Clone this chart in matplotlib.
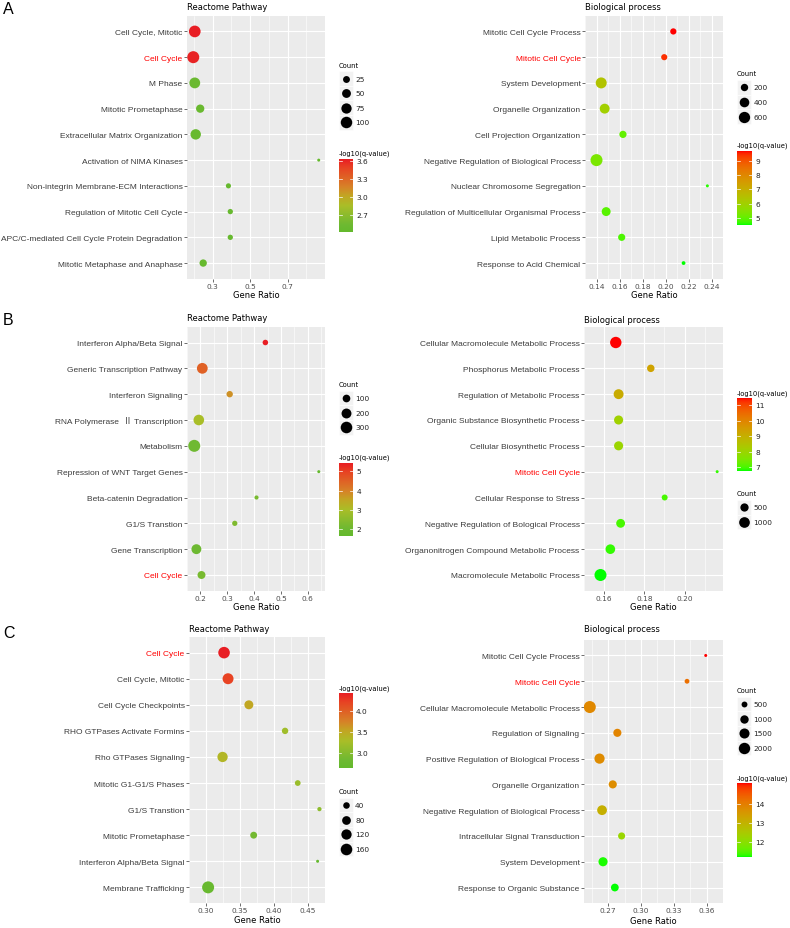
import numpy as np
import matplotlib
matplotlib.use("Agg")
import matplotlib.pyplot as plt
from matplotlib.colors import ListedColormap, LinearSegmentedColormap
from matplotlib.patches import Rectangle

W, H, DPI = 790, 929, 100

# ---------------- data ----------------
# A - Reactome Pathway
a_left_terms = ["Cell Cycle, Mitotic", "Cell Cycle", "M Phase", "Mitotic Prometaphase",
                "Extracellular Matrix Organization", "Activation of NIMA Kinases",
                "Non-integrin Membrane-ECM Interactions", "Regulation of Mitotic Cell Cycle",
                "APC/C-mediated Cell Cycle Protein Degradation", "Mitotic Metaphase and Anaphase"]
a_left_ratio = [0.204, 0.196, 0.204, 0.233, 0.209, 0.867, 0.384, 0.394, 0.394, 0.249]
a_left_count = [105, 112, 86, 42, 78, 5, 11, 12, 12, 30]
a_left_q = [3.64, 3.62, 2.50, 2.47, 2.46, 2.41, 2.44, 2.45, 2.45, 2.44]
a_left_xbreaks = [0.3, 0.5, 0.7]
a_left_xlabels = ["0.3", "0.5", "0.7"]
a_left_size_breaks = [25, 50, 75, 100]
a_left_col_breaks = [2.7, 3.0, 3.3, 3.6]
a_left_col_labels = ["2.7", "3.0", "3.3", "3.6"]

# A - Biological process
a_right_terms = ["Mitotic Cell Cycle Process", "Mitotic Cell Cycle", "System Development",
                 "Organelle Organization", "Cell Projection Organization",
                 "Negative Regulation of Biological Process", "Nuclear Chromosome Segregation",
                 "Regulation of Multicellular Organismal Process", "Lipid Metabolic Process",
                 "Response to Acid Chemical"]
a_right_ratio = [0.2068, 0.1989, 0.1441, 0.1471, 0.1630, 0.1400, 0.2364, 0.1484, 0.1619, 0.2157]
a_right_count = [130, 125, 560, 430, 190, 700, 45, 330, 185, 50]
a_right_q = [9.68, 9.45, 6.4, 6.0, 5.0, 5.3, 4.6, 4.9, 4.8, 4.5]
a_right_xbreaks = [0.14, 0.16, 0.18, 0.20, 0.22, 0.24]
a_right_xlabels = ["0.14", "0.16", "0.18", "0.20", "0.22", "0.24"]
a_right_size_breaks = [200, 400, 600]
a_right_col_breaks = [5, 6, 7, 8, 9]
a_right_col_labels = ["5", "6", "7", "8", "9"]

# B - Reactome Pathway
b_left_terms = ["Interferon Alpha/Beta Signal", "Generic Transcription Pathway",
                "Interferon Signaling", "RNA Polymerase  \u2161 Transcription", "Metabolism",
                "Repression of WNT Target Genes", "Beta-catenin Degradation", "G1/S Transtion",
                "Gene Transcription", "Cell Cycle"]
b_left_ratio = [0.442, 0.207, 0.309, 0.194, 0.177, 0.641, 0.409, 0.328, 0.185, 0.204]
b_left_count = [40, 250, 60, 240, 330, 15, 20, 35, 200, 110]
b_left_q = [5.42, 4.5, 3.8, 3.0, 2.05, 1.65, 2.2, 2.3, 2.0, 2.2]
b_left_xbreaks = [0.2, 0.3, 0.4, 0.5, 0.6]
b_left_xlabels = ["0.2", "0.3", "0.4", "0.5", "0.6"]
b_left_size_breaks = [100, 200, 300]
b_left_col_breaks = [2, 3, 4, 5]
b_left_col_labels = ["2", "3", "4", "5"]

# B - Biological process
b_right_terms = ["Cellular Macromolecule Metabolic Process", "Phosphorus Metabolic Process",
                 "Regulation of Metabolic Process", "Organic Substance Biosynthetic Process",
                 "Cellular Biosynthetic Process", "Mitotic Cell Cycle",
                 "Cellular Response to Stress", "Negative Regulation of Bological Process",
                 "Organonitrogen Compound Metabolic Process", "Macromolecule Metabolic Process"]
b_right_ratio = [0.1658, 0.1832, 0.1672, 0.1672, 0.1672, 0.2162, 0.1901, 0.1682, 0.1631, 0.1582]
b_right_count = [1180, 380, 820, 650, 650, 60, 200, 600, 760, 1350]
b_right_q = [11.43, 9.3, 9.1, 8.1, 8.0, 6.9, 7.0, 7.0, 6.9, 6.78]
b_right_xbreaks = [0.16, 0.18, 0.20]
b_right_xlabels = ["0.16", "0.18", "0.20"]
b_right_size_breaks = [500, 1000]
b_right_col_breaks = [7, 8, 9, 10, 11]
b_right_col_labels = ["7", "8", "9", "10", "11"]

# C - Reactome Pathway
c_left_terms = ["Cell Cycle", "Cell Cycle, Mitotic", "Cell Cycle Checkpoints",
                "RHO GTPases Activate Formins", "Rho GTPases Signaling", "Mitotic G1-G1/S Phases",
                "G1/S Transtion", "Mitotic Prometaphase", "Interferon Alpha/Beta Signal",
                "Membrane Trafficking"]
c_left_ratio = [0.3267, 0.3326, 0.3633, 0.4167, 0.3245, 0.4354, 0.4674, 0.3704, 0.4647, 0.3032]
c_left_count = [160, 140, 85, 38, 120, 30, 18, 45, 15, 175]
c_left_q = [4.41, 4.2, 3.5, 3.2, 3.35, 3.15, 3.05, 2.85, 2.63, 2.7]
c_left_xbreaks = [0.30, 0.35, 0.40, 0.45]
c_left_xlabels = ["0.30", "0.35", "0.40", "0.45"]
c_left_size_breaks = [40, 80, 120, 160]
c_left_col_breaks = [3.0, 3.5, 4.0]
c_left_col_labels = ["3.0", "3.5", "4.0"]

# C - Biological process
c_right_terms = ["Mitotic Cell Cycle Process", "Mitotic Cell Cycle",
                 "Cellular Macromolecule Metabolic Process", "Regulation of Signaling",
                 "Positive Regulation of Biological Process", "Organelle Organization",
                 "Negative Regulation of Biological Process", "Intracellular Signal Transduction",
                 "System Development", "Response to Organic Substance"]
c_right_ratio = [0.3592, 0.3421, 0.2532, 0.2784, 0.2621, 0.2742, 0.2644, 0.2823, 0.2653, 0.2761]
c_right_count = [300, 380, 2250, 930, 1550, 930, 1400, 700, 1200, 850]
c_right_q = [15.04, 14.2, 13.8, 13.85, 13.75, 13.7, 13.05, 12.2, 11.25, 11.22]
c_right_xbreaks = [0.27, 0.30, 0.33, 0.36]
c_right_xlabels = ["0.27", "0.30", "0.33", "0.36"]
c_right_size_breaks = [500, 1000, 1500, 2000]
c_right_col_breaks = [12, 13, 14]
c_right_col_labels = ["12", "13", "14"]

# ---------------- colours ----------------
M = np.array([[0.4124564, 0.3575761, 0.1804375],
              [0.2126729, 0.7151522, 0.0721750],
              [0.0193339, 0.1191920, 0.9503041]])
Minv = np.linalg.inv(M)
WHITE = np.array([0.95047, 1.0, 1.08883])


def to_lab(hexcol):
    rgb = np.array([int(hexcol[i:i + 2], 16) / 255 for i in (1, 3, 5)])
    lin = np.where(rgb <= 0.04045, rgb / 12.92, ((rgb + 0.055) / 1.055) ** 2.4)
    t = (M @ lin) / WHITE
    f = np.where(t > (6 / 29) ** 3, np.cbrt(t), t / (3 * (6 / 29) ** 2) + 4 / 29)
    return np.array([116 * f[1] - 16, 500 * (f[0] - f[1]), 200 * (f[1] - f[2])])


def from_lab(lab):
    fy = (lab[0] + 16) / 116
    f = np.array([fy + lab[1] / 500, fy, fy - lab[2] / 200])
    t = np.where(f > 6 / 29, f ** 3, 3 * (6 / 29) ** 2 * (f - 4 / 29))
    lin = np.clip(Minv @ (t * WHITE), 0, 1)
    rgb = np.where(lin <= 0.0031308, 12.92 * lin, 1.055 * lin ** (1 / 2.4) - 0.055)
    return np.clip(rgb, 0, 1)


def lab_cmap(low, high):
    l0, l1 = to_lab(low), to_lab(high)
    return ListedColormap([from_lab(l0 + t * (l1 - l0)) for t in np.linspace(0, 1, 256)])


# reactome panels: green -> yellow-green -> gold -> orange -> red
cmap_reactome = LinearSegmentedColormap.from_list("reactome", [
    (0.00, "#64B92D"), (0.10, "#6EB932"), (0.36, "#AABE28"), (0.50, "#C3A523"),
    (0.62, "#D78228"), (0.89, "#E84123"), (1.00, "#E81E24")])
cmap_bp = lab_cmap("#00FF00", "#FF0000")

D_MIN, D_MAX = 3.0, 12.0


def dot_area(vals, cmin, cmax):
    p = (np.asarray(vals, float) - cmin) / (cmax - cmin)
    d = D_MIN + (D_MAX - D_MIN) * np.sqrt(np.clip(p, 0, 1))
    return (d * 72 / DPI) ** 2


# ---------------- figure ----------------
plt.rcParams["font.family"] = ["DejaVu Sans"]
fig = plt.figure(figsize=(W / DPI, H / DPI), dpi=DPI)
LABEL_FONT = ["Liberation Sans", "Noto Sans CJK SC", "DejaVu Sans"]

ov = fig.add_axes([0, 0, 1, 1], zorder=10)
ov.patch.set_alpha(0)
ov.axis("off")

KEY_STEP = 14.6


def draw_panel(terms, ratio, count, q, highlight, title, xbreaks, xlabels,
               size_breaks, col_breaks, col_labels, cmap, lay):
    x0, y0, x1, y1 = lay["box"]
    ax = fig.add_axes([x0 / W, 1 - y1 / H, (x1 - x0) / W, (y1 - y0) / H])
    n = len(terms)
    ypos = np.arange(n)[::-1]
    cmin, cmax = min(count), max(count)
    qmin, qmax = min(q), max(q)
    lo, hi = min(ratio), max(ratio)
    pad = (hi - lo) * 0.05
    ax.set_xlim(lo - pad, hi + pad)
    ax.set_ylim(-0.6, n - 0.4)
    ax.set_facecolor("#EBEBEB")
    for s in ax.spines.values():
        s.set_visible(False)
    ax.scatter(ratio, ypos, s=dot_area(count, cmin, cmax), c=q, cmap=cmap,
               vmin=qmin, vmax=qmax, linewidths=0, zorder=3)

    step = xbreaks[1] - xbreaks[0]
    ax.set_xticks(xbreaks)
    ax.set_xticklabels(xlabels)
    ax.set_xticks(np.arange(xbreaks[0] - step / 2, xbreaks[-1] + step, step), minor=True)
    ax.set_yticks(np.arange(n))
    ax.set_yticklabels(terms[::-1], family=LABEL_FONT, fontsize=6.0)
    for lab in ax.get_yticklabels():
        lab.set_color("#FF0000" if lab.get_text() == highlight else "#3C3C3C")
    ax.set_axisbelow(True)
    ax.grid(which="major", color="white", lw=0.8)
    ax.grid(which="minor", axis="x", color="white", lw=0.4)
    ax.tick_params(which="major", length=2.2, width=0.5, color="#333333", pad=1)
    ax.tick_params(axis="x", labelsize=5.3, labelcolor="#4D4D4D")
    ax.tick_params(which="minor", length=0)

    # title and axis title
    ov.text(x0, lay["title_y"], title, fontsize=6.0, ha="left", va="center")
    ov.text((x0 + x1) / 2, lay["xlab_y"], "Gene Ratio", fontsize=6.0, ha="center", va="center")

    # size legend
    kx = lay["key_x"]
    tx, ty = lay["count_title"]
    ov.text(tx, ty, "Count", fontsize=4.9, ha="left", va="center")
    for i, b in enumerate(size_breaks):
        yc = lay["key_y0"] + i * KEY_STEP
        ov.add_patch(Rectangle((kx - 7, yc - KEY_STEP / 2), 14, KEY_STEP,
                               facecolor="#F2F2F2", edgecolor="white", lw=0.4))
        ov.scatter([kx], [yc], s=dot_area([b], cmin, cmax), color="black", linewidths=0)
        ov.text(kx + 9.5, yc, str(b), fontsize=5.3, ha="left", va="center", color="#222222")

    # colour bar
    bx0, by0, bx1, by1 = lay["bar"]
    ctx, cty = lay["cbar_title"]
    ov.text(ctx, cty, "-log10(q-value)", fontsize=4.9, ha="left", va="center")
    grad = np.linspace(1, 0, 200)[:, None]
    ov.imshow(grad, cmap=cmap, vmin=0, vmax=1, extent=(bx0, bx1, by1, by0),
              aspect="auto", origin="upper", interpolation="bilinear")
    bw = bx1 - bx0
    for v, lab in zip(col_breaks, col_labels):
        yy = by1 - (v - qmin) / (qmax - qmin) * (by1 - by0)
        ov.plot([bx0, bx0 + bw * 0.2], [yy, yy], color="white", lw=0.5)
        ov.plot([bx1 - bw * 0.2, bx1], [yy, yy], color="white", lw=0.5)
        ov.text(bx1 + 3.5, yy, lab, fontsize=5.3, ha="left", va="center", color="#222222")


lay_a_left = dict(box=(187, 17, 325, 279.5), title_y=7.5, xlab_y=295.5,
                  key_x=346, count_title=(339, 66), key_y0=79.5,
                  cbar_title=(339, 153.5), bar=(339, 160, 353, 232.7))
lay_a_right = dict(box=(585, 17, 723, 279.5), title_y=7.5, xlab_y=295.5,
                   key_x=744, count_title=(737, 74), key_y0=88.3,
                   cbar_title=(737, 146), bar=(737, 152, 751.5, 226))
lay_b_left = dict(box=(187, 328, 325, 591.5), title_y=318.5, xlab_y=607.3,
                  key_x=346, count_title=(339, 385), key_y0=399,
                  cbar_title=(339, 457.7), bar=(339, 464.3, 353, 536.7))
lay_b_right = dict(box=(584, 328, 723, 591.5), title_y=320, xlab_y=607.3,
                   key_x=744, count_title=(737, 494), key_y0=508.3,
                   cbar_title=(737, 393.3), bar=(737, 399.3, 751.5, 471.7))
lay_c_left = dict(box=(189, 638, 325, 904), title_y=629, xlab_y=921,
                  key_x=345.5, count_title=(338.5, 791.7), key_y0=806,
                  cbar_title=(338.5, 689), bar=(338.5, 695, 352.5, 769.3))
lay_c_right = dict(box=(584, 641, 723, 904), title_y=630, xlab_y=921.5,
                   key_x=744, count_title=(737, 691), key_y0=705,
                   cbar_title=(737, 778.3), bar=(737, 785, 751.5, 858.3))

draw_panel(a_left_terms, a_left_ratio, a_left_count, a_left_q, "Cell Cycle", "Reactome Pathway",
           a_left_xbreaks, a_left_xlabels, a_left_size_breaks, a_left_col_breaks,
           a_left_col_labels, cmap_reactome, lay_a_left)
draw_panel(a_right_terms, a_right_ratio, a_right_count, a_right_q, "Mitotic Cell Cycle",
           "Biological process", a_right_xbreaks, a_right_xlabels, a_right_size_breaks,
           a_right_col_breaks, a_right_col_labels, cmap_bp, lay_a_right)
draw_panel(b_left_terms, b_left_ratio, b_left_count, b_left_q, "Cell Cycle", "Reactome Pathway",
           b_left_xbreaks, b_left_xlabels, b_left_size_breaks, b_left_col_breaks,
           b_left_col_labels, cmap_reactome, lay_b_left)
draw_panel(b_right_terms, b_right_ratio, b_right_count, b_right_q, "Mitotic Cell Cycle",
           "Biological process", b_right_xbreaks, b_right_xlabels, b_right_size_breaks,
           b_right_col_breaks, b_right_col_labels, cmap_bp, lay_b_right)
draw_panel(c_left_terms, c_left_ratio, c_left_count, c_left_q, "Cell Cycle", "Reactome Pathway",
           c_left_xbreaks, c_left_xlabels, c_left_size_breaks, c_left_col_breaks,
           c_left_col_labels, cmap_reactome, lay_c_left)
draw_panel(c_right_terms, c_right_ratio, c_right_count, c_right_q, "Mitotic Cell Cycle",
           "Biological process", c_right_xbreaks, c_right_xlabels, c_right_size_breaks,
           c_right_col_breaks, c_right_col_labels, cmap_bp, lay_c_right)

# panel letters
for letter, ly in [("A", 9.5), ("B", 320.5), ("C", 633.5)]:
    ov.text(3, ly, letter, fontsize=11.5, family="Liberation Sans", ha="left", va="center")

ov.set_xlim(0, W)
ov.set_ylim(H, 0)

fig.savefig("out.png", dpi=DPI)
